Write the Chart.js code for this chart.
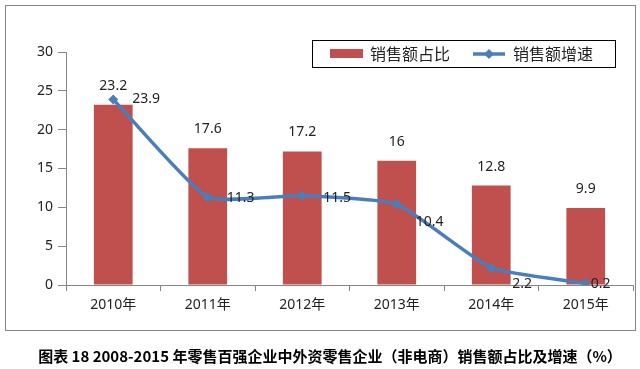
<!DOCTYPE html>
<html>
<head>
<meta charset="utf-8">
<script src="https://cdn.jsdelivr.net/npm/chart.js@4.4.1/dist/chart.umd.min.js"></script>
<style>
  html, body { margin: 0; padding: 0; background: #fff; }
  #wrap { position: relative; width: 640px; height: 369px; }
</style>
</head>
<body>
<div id="wrap"><canvas id="myChart" width="640" height="369"></canvas></div>
<script>
const categories = ['2010年', '2011年', '2012年', '2013年', '2014年', '2015年'];
const shareValues = [23.2, 17.6, 17.2, 16, 12.8, 9.9];
const growthValues = [23.9, 11.3, 11.5, 10.4, 2.2, 0.2];
const yTicks = [0, 5, 10, 15, 20, 25, 30];
const seriesNames = ['销售额占比', '销售额增速'];
const titleText = '图表 18 2008-2015 年零售百强企业中外资零售企业（非电商）销售额占比及增速（%）';

const barColor = '#C0504D';
const lineColor = '#4A7EBB';
const axisColor = '#868686';
const textColor = '#222';

// where Excel put the growth labels, relative to each point
const growthLabelShift = [[19, 0], [19, 1], [21, 2], [19, 18], [21, 16], [5, 1]];

const decorPlugin = {
    id: 'decor',
    beforeDraw(chart) {
        const ctx = chart.ctx;
        ctx.save();
        ctx.fillStyle = '#fff';
        ctx.fillRect(0, 0, chart.width, chart.height);
        ctx.strokeStyle = axisColor;
        ctx.lineWidth = 1;
        ctx.strokeRect(5.5, 5.5, 630, 325);
        ctx.restore();
    },
    afterDatasetsDraw(chart) {
        const ctx = chart.ctx;
        ctx.save();
        ctx.fillStyle = textColor;
        ctx.font = '14px "Noto Sans", sans-serif';

        // bar labels, centred above each bar
        ctx.textAlign = 'center';
        ctx.textBaseline = 'middle';
        chart.getDatasetMeta(0).data.forEach((bar, i) => {
            ctx.fillText(String(shareValues[i]), bar.x, bar.y - 19);
        });

        // line labels, to the right of each point
        ctx.textAlign = 'left';
        chart.getDatasetMeta(1).data.forEach((pt, i) => {
            const s = growthLabelShift[i];
            ctx.fillText(String(growthValues[i]), pt.x + s[0], pt.y + s[1]);
        });
        ctx.restore();
    },
    afterDraw(chart) {
        const ctx = chart.ctx;
        ctx.save();

        // legend box
        ctx.strokeStyle = '#000';
        ctx.lineWidth = 1;
        ctx.strokeRect(312.5, 40.5, 303, 27);
        ctx.fillStyle = barColor;
        ctx.fillRect(330, 49, 33, 9);
        ctx.strokeStyle = lineColor;
        ctx.lineWidth = 3.5;
        ctx.beginPath();
        ctx.moveTo(473, 54);
        ctx.lineTo(505, 54);
        ctx.stroke();
        ctx.fillStyle = lineColor;
        ctx.beginPath();
        ctx.moveTo(489, 49);
        ctx.lineTo(494, 54);
        ctx.lineTo(489, 59);
        ctx.lineTo(484, 54);
        ctx.closePath();
        ctx.fill();

        ctx.fillStyle = textColor;
        ctx.font = '16px "Noto Sans CJK SC", sans-serif';
        ctx.textAlign = 'left';
        ctx.textBaseline = 'middle';
        ctx.fillText(seriesNames[0], 370, 54);
        ctx.fillText(seriesNames[1], 513, 54);

        // caption under the box
        ctx.fillStyle = '#000';
        ctx.font = 'bold 15px "Noto Sans CJK SC", sans-serif';
        ctx.textAlign = 'center';
        ctx.fillText(titleText, 330, 356, 584);
        ctx.restore();
    }
};

const ctx = document.getElementById('myChart').getContext('2d');
const myChart = new Chart(ctx, {
    type: 'bar',
    data: {
        labels: categories,
        datasets: [{
            label: seriesNames[0],
            data: shareValues,
            backgroundColor: barColor,
            categoryPercentage: 1,
            barPercentage: 0.41,
            order: 2
        }, {
            type: 'line',
            label: seriesNames[1],
            data: growthValues,
            borderColor: lineColor,
            backgroundColor: lineColor,
            borderWidth: 3.5,
            tension: 0.15,
            pointStyle: 'rectRot',
            pointRadius: 5,
            pointBorderWidth: 0,
            fill: false,
            order: 1
        }]
    },
    options: {
        responsive: false,
        animation: false,
        layout: { padding: { top: 52, right: 7, left: 0, bottom: 0 } },
        plugins: {
            legend: { display: false },
            title: { display: false },
            tooltip: { enabled: false }
        },
        scales: {
            x: {
                offset: true,
                grid: {
                    display: true,
                    offset: true,
                    drawOnChartArea: false,
                    color: axisColor,
                    tickLength: 6
                },
                border: { color: axisColor },
                ticks: {
                    color: textColor,
                    padding: 6,
                    font: { family: '"Noto Sans", "Noto Sans CJK SC", sans-serif', size: 14 }
                },
                afterFit(scale) { scale.height = 84; }
            },
            y: {
                min: 0,
                max: 30,
                afterBuildTicks(scale) { scale.ticks = yTicks.map(v => ({ value: v })); },
                grid: {
                    display: true,
                    drawOnChartArea: false,
                    color: axisColor,
                    tickLength: 8
                },
                border: { color: axisColor },
                ticks: {
                    color: textColor,
                    padding: 5,
                    font: { family: '"Noto Sans", sans-serif', size: 14 }
                },
                afterFit(scale) { scale.width = 66; }
            }
        }
    },
    plugins: [decorPlugin]
});
</script>
</body>
</html>
